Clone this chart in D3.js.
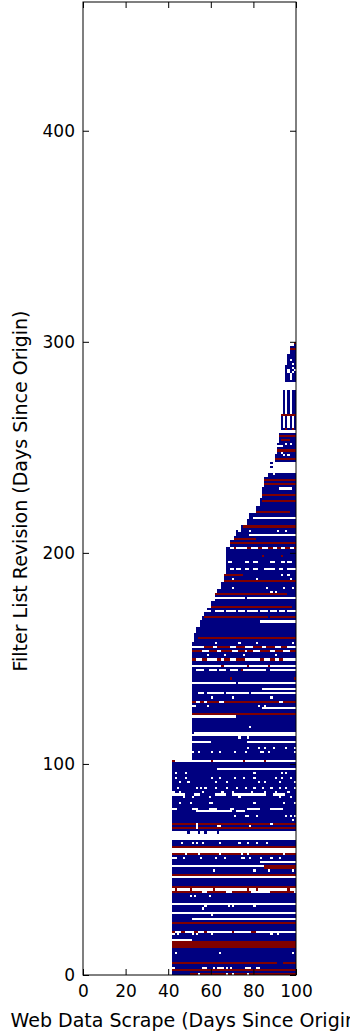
<!DOCTYPE html>
<html>
<head>
<meta charset="utf-8">
<script src="https://cdn.jsdelivr.net/npm/d3@7"></script>
<style>
  body { margin: 0; background: #fff; }
  svg { display: block; font-family: "DejaVu Sans", sans-serif; }
</style>
</head>
<body>
<div id="chart"></div>
<script>
// tick labels
const xTicks = [0, 20, 40, 60, 80, 100];
const yTicks = [0, 100, 200, 300, 400];

// rows with data: [first revision day, end revision day (excl.), first scrape day]
const coverage = [
  [0, 102, 42], [102, 158, 51], [158, 162, 52], [162, 165, 53], [165, 168, 55],
  [168, 170, 56], [170, 172, 57], [172, 174, 58], [174, 177, 60], [177, 180, 62],
  [180, 183, 63], [183, 186, 65], [186, 190, 66], [190, 203, 67], [203, 206, 69],
  [206, 208, 71], [208, 211, 72], [211, 213, 74], [213, 216, 77], [216, 219, 78],
  [219, 222, 81], [222, 226, 83], [226, 231, 84], [231, 236, 85], [236, 238, 87],
  [238, 243, 88], [243, 247, 90], [247, 252, 91], [252, 258, 92], [258, 266, 93],
  [266, 277, 94], [281, 289, 95], [289, 294, 96], [294, 298, 97], [298, 300, 99]
];
const lastScrapeDay = 100;

// missing stretches: [revision day, from scrape day, to scrape day (excl.)]
const gapRuns = [
  [16, 42, 51], [20, 42, 100], [26, 51, 100], [29, 42, 100], [33, 42, 100],
  [39, 42, 100], [40, 42, 100], [46, 42, 100], [51, 42, 85], [53, 83, 100],
  [57, 42, 100], [58, 42, 100], [59, 42, 100], [64, 42, 100], [65, 42, 100], [66, 42, 100],
  [67, 42, 49], [67, 50, 54], [67, 55, 57], [67, 58, 63], [67, 64, 100],
  [77, 53, 70], [77, 72, 76],
  [78, 42, 44], [78, 51, 54], [78, 59, 63], [78, 69, 71], [78, 77, 83], [78, 88, 94],
  [85, 42, 48], [85, 52, 55], [85, 62, 67], [85, 70, 86], [85, 89, 95],
  [97, 63, 100], [101, 42, 100],
  [110, 51, 60], [110, 77, 100], [113, 51, 100], [114, 52, 100], [122, 51, 72],
  [126, 84, 100], [127, 51, 53], [129, 51, 100],
  [133, 54, 57], [133, 58, 66], [133, 67, 78], [133, 79, 100], [135, 84, 100],
  [138, 51, 72], [138, 73, 100],
  [144, 53, 57], [144, 59, 63], [144, 64, 67], [144, 69, 73], [144, 75, 86], [144, 88, 100],
  [146, 51, 100], [149, 51, 100], [153, 51, 100], [155, 51, 100],
  [167, 83, 100],
  [172, 58, 60], [172, 62, 66], [172, 67, 72], [172, 73, 76], [172, 77, 82],
  [172, 83, 87], [172, 88, 91], [172, 92, 95], [172, 96, 100],
  [178, 62, 76], [178, 77, 100],
  [192, 69, 71], [192, 72, 74], [192, 76, 78], [192, 80, 82], [192, 85, 90], [192, 92, 94], [192, 96, 100],
  [195, 68, 70], [195, 76, 78], [195, 80, 82], [195, 88, 90], [195, 93, 95], [195, 96, 98],
  [202, 69, 100], [208, 78, 100], [216, 80, 100], [230, 92, 98],
  [238, 88, 100], [239, 88, 100], [240, 89, 100], [241, 88, 100], [242, 89, 100],
  [250, 91, 94], [257, 92, 100]
];

// high value stretches: [revision day, from scrape day, to scrape day (excl.)]
const redRuns = [
  [0, 50, 100], [2, 42, 100], [5, 42, 91], [5, 94, 100],
  [13, 42, 100], [14, 42, 100], [15, 42, 100], [24, 42, 100],
  [39, 42, 56], [39, 58, 67], [39, 70, 79], [39, 88, 99],
  [41, 42, 100], [47, 42, 100], [50, 85, 100], [51, 85, 100],
  [57, 42, 48], [57, 49, 54], [57, 55, 64], [57, 65, 74], [57, 75, 77], [57, 78, 94], [57, 95, 100],
  [60, 42, 100], [69, 42, 100], [71, 42, 100],
  [123, 51, 100],
  [129, 51, 53], [129, 55, 57], [129, 58, 64], [129, 66, 92], [129, 94, 100],
  [153, 51, 56], [153, 59, 63], [153, 65, 70], [153, 73, 76], [153, 77, 80],
  [153, 83, 88], [153, 90, 94], [153, 97, 100],
  [155, 57, 61], [155, 63, 69], [155, 72, 76], [155, 80, 84], [155, 86, 90], [155, 93, 96],
  [159, 54, 100],
  [169, 57, 87], [169, 88, 100], [174, 60, 98], [180, 62, 96], [186, 66, 100],
  [189, 66, 75], [204, 69, 100], [206, 71, 81], [212, 75, 100], [219, 81, 97],
  [224, 84, 100], [227, 84, 100], [232, 85, 100], [234, 85, 100], [244, 90, 100],
  [248, 91, 100], [253, 93, 97], [255, 92, 100], [265, 93, 100], [296, 97, 100]
];

// single high cells: [revision day, scrape days]
const redDots = [
  [20, [42, 46, 47, 52, 53, 57, 70, 79, 80]],
  [40, [43, 50, 61, 77, 81, 96]],
  [101, [42, 60, 75, 85]],
  [140, [69, 99]],
  [144, [74]],
  [146, [65, 77, 87]],
  [149, [51, 52, 56, 57, 63, 64, 66, 67, 68, 72, 73, 74, 75, 83, 84, 88, 89, 92, 93]],
  [198, [84, 93]],
  [202, [71, 77, 78, 82, 83, 87, 88, 91, 92, 95, 96, 99]],
  [258, [95, 98]], [299, [99]]
];

// single missing cells: [revision day, scrape days]
const holes = [
  [0, [54, 67, 70, 77]],
  [3, [42, 56, 57, 61, 63, 64, 65, 67, 69, 76, 77, 78, 81, 82]],
  [10, [43, 64, 98]],
  [19, [42, 44, 51, 53, 60, 88, 91]],
  [28, [60]], [31, [56]], [32, [57, 68, 70, 80]], [37, [50, 52, 59]],
  [49, [61, 80, 87, 98]],
  [55, [42, 43, 47, 55, 62, 66, 74, 75, 78, 83, 88, 92]],
  [62, [46, 51, 53, 56, 64, 73, 77, 81, 86]],
  [69, [53]], [70, [53, 63, 64, 78]], [71, [53, 88]], [73, [98]],
  [75, [71, 76, 77, 81, 95, 97, 99]],
  [81, [45, 50, 59, 60, 80, 94, 99]],
  [84, [47, 51, 59, 73, 92, 97]],
  [86, [42, 45, 56, 65, 70, 79, 85, 90, 96]],
  [88, [44, 53, 55, 57, 62, 67, 72, 76, 80, 84, 88, 92, 95, 99]],
  [91, [45, 49, 62, 67, 82, 85, 92, 99]],
  [93, [43, 48, 60, 64, 71, 75, 80, 90, 93, 97]],
  [95, [43, 48, 80, 93, 95]],
  [105, [51, 54, 60, 64, 71, 76, 83, 84, 87, 99]],
  [107, [77, 82, 85, 89, 95, 99]],
  [112, [73, 77]], [117, [78]], [127, [58, 82, 85]], [131, [60, 70, 88]],
  [151, [58, 66, 75, 90]], [157, [62, 73, 81, 98]],
  [181, [88, 90]], [183, [70, 86, 94, 98]], [187, [70, 81, 97]], [189, [93, 96]],
  [210, [73, 78, 91, 95]],
  [237, [89]], [246, [94, 96]], [247, [93]], [251, [95, 97]],
  [259, [94, 96, 98]], [260, [94, 96, 98]], [261, [94, 96, 98]],
  [262, [94, 96, 98]], [263, [94, 96, 98]], [264, [94, 96, 98]],
  [266, [95, 97]], [267, [95, 97]], [268, [95, 97]], [269, [95, 97]], [270, [95, 97]],
  [271, [95, 97]], [272, [95, 97]], [273, [95, 97]], [274, [95, 97]],
  [275, [95, 97]], [276, [95, 97]],
  [282, [97]], [283, [97]], [284, [97]], [285, [96, 98]], [286, [96, 99]],
  [287, [98]], [289, [98]], [291, [97]]
];

const colors = { b: "#000080", r: "#800000" };

const width = 350;
const height = 1035;

const svg = d3.select("#chart")
  .append("svg")
  .attr("width", width)
  .attr("height", height);

const x = d3.scaleLinear().domain([0, 100]).range([83, 296]);
const y = d3.scaleLinear().domain([0, 461]).range([975, 2]);

// decode the runs into a cell grid
const grid = new Map();
const key = (r, d) => r + ":" + d;
coverage.forEach(([r0, r1, d0]) => {
  for (let r = r0; r < r1; r++)
    for (let d = d0; d < lastScrapeDay; d++) grid.set(key(r, d), "b");
});
gapRuns.forEach(([r, a, b]) => { for (let d = a; d < b; d++) grid.delete(key(r, d)); });
redRuns.forEach(([r, a, b]) => { for (let d = a; d < b; d++) grid.set(key(r, d), "r"); });
holes.forEach(([r, ds]) => ds.forEach(d => grid.delete(key(r, d))));
redDots.forEach(([r, ds]) => ds.forEach(d => grid.set(key(r, d), "r")));

// merge neighbouring cells of one colour into segments
const segments = [];
for (let r = 0; r < 300; r++) {
  let cur = null;
  for (let d = 0; d <= lastScrapeDay; d++) {
    const c = grid.get(key(r, d));
    if (cur && c === cur.c) { cur.d1 = d + 1; continue; }
    if (cur) segments.push(cur);
    cur = c ? { r: r, d0: d, d1: d + 1, c: c } : null;
  }
}

svg.append("g")
  .attr("shape-rendering", "crispEdges")
  .selectAll("rect")
  .data(segments)
  .enter()
  .append("rect")
  .attr("x", d => x(d.d0))
  .attr("width", d => x(d.d1) - x(d.d0))
  .attr("y", d => y(d.r + 1))
  .attr("height", d => y(d.r) - y(d.r + 1))
  .attr("fill", d => colors[d.c]);

// axes, ticks pointing inwards on all sides
const tick = 6;
const axisB = svg.append("g").attr("transform", "translate(0,975)")
  .call(d3.axisBottom(x).tickValues(xTicks).tickSizeInner(-tick).tickSizeOuter(0).tickPadding(10));
const axisT = svg.append("g").attr("transform", "translate(0,2)")
  .call(d3.axisTop(x).tickValues(xTicks).tickSizeInner(-tick).tickSizeOuter(0).tickFormat(""));
const axisL = svg.append("g").attr("transform", "translate(83,0)")
  .call(d3.axisLeft(y).tickValues(yTicks).tickSizeInner(-tick).tickSizeOuter(0).tickPadding(8));
const axisR = svg.append("g").attr("transform", "translate(296,0)")
  .call(d3.axisRight(y).tickValues(yTicks).tickSizeInner(-tick).tickSizeOuter(0).tickFormat(""));

[axisB, axisT, axisL, axisR].forEach(g => {
  g.select(".domain").remove();
  g.selectAll("line").attr("stroke", "#000");
  g.selectAll("text")
    .attr("fill", "#000")
    .style("font-family", "DejaVu Sans, sans-serif")
    .style("font-size", "17px");
});

svg.append("rect")
  .attr("x", x(0))
  .attr("y", y(461))
  .attr("width", x(100) - x(0))
  .attr("height", y(0) - y(461))
  .attr("fill", "none")
  .attr("stroke", "#000")
  .attr("stroke-width", 1);

svg.append("text")
  .attr("x", (x(0) + x(100)) / 2 - 2)
  .attr("y", 1027)
  .attr("text-anchor", "middle")
  .style("font-size", "19px")
  .text("Web Data Scrape (Days Since Origin)");

svg.append("text")
  .attr("transform", "translate(27,491) rotate(-90)")
  .attr("text-anchor", "middle")
  .style("font-size", "19px")
  .text("Filter List Revision (Days Since Origin)");
</script>
</body>
</html>
